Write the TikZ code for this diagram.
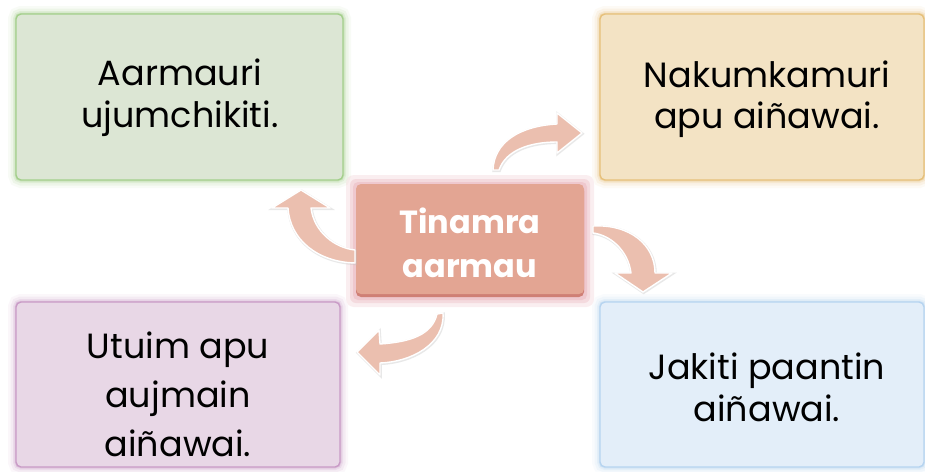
\documentclass[tikz,border=0pt]{standalone}
\usepackage{fontspec}
\setmainfont{Poppins}
\begin{document}
\begin{tikzpicture}[x=1pt,y=-1pt,
  glowbox/.style={rounded corners=5pt, line width=1.4pt, inner sep=0pt,
    align=center, text=black, font=\fontsize{36}{42}\selectfont,
    preaction={draw=#1, draw opacity=0.07, line width=16pt},
    preaction={draw=#1, draw opacity=0.12, line width=11pt},
    preaction={draw=#1, draw opacity=0.2, line width=6pt},
    preaction={draw=#1, draw opacity=0.3, line width=3pt}},
  arrowshape/.style={fill=arrowfill, draw=white, line width=1.4pt, line join=round,
    preaction={draw=black!25, draw opacity=0.35, line width=2.5pt, transform canvas={xshift=0.6pt,yshift=-0.8pt}}},
]
\definecolor{gfill}{HTML}{DCE6D4}\definecolor{gline}{HTML}{A3CF8B}
\definecolor{ofill}{HTML}{F3E3C4}\definecolor{oline}{HTML}{E6C07A}
\definecolor{pfill}{HTML}{E8D7E6}\definecolor{pline}{HTML}{C99BC6}
\definecolor{bfill}{HTML}{E3EEF9}\definecolor{bline}{HTML}{B6D4F0}
\definecolor{cfill}{HTML}{E3A593}\definecolor{cdark}{HTML}{CF7F75}
\definecolor{cglow}{HTML}{E9AEB6}
\definecolor{arrowfill}{HTML}{EBBFAF}
\useasboundingbox (0,0) rectangle (925,471);
\fill[white] (0,0) rectangle (925,471);

% outer boxes
\node[glowbox=gline, draw=gline, fill=gfill, minimum width=327pt, minimum height=166pt] (g) at (179.5,97) {};
\node[glowbox=oline, draw=oline, fill=ofill, minimum width=324pt, minimum height=166pt] (o) at (762,97) {};
\node[glowbox=pline, draw=pline, fill=pfill, minimum width=324pt, minimum height=165pt] (p) at (178,384.5) {};
\node[glowbox=bline, draw=bline, fill=bfill, minimum width=324pt, minimum height=165pt] (b) at (762,384.5) {};

\node[align=center, font=\fontsize{35}{42}\selectfont] (gt) at (180,98) {Aarmauri\\ujumchikiti.};
\node[align=center, font=\fontsize{35}{41}\selectfont] (ot) at (767,99) {Nakumkamuri\\apu aiñawai.};
\node[align=center, font=\fontsize{35}{49}\selectfont] (pt) at (178,394) {Utuim apu\\aujmain\\aiñawai.};
\node[align=center, font=\fontsize{35}{42}\selectfont] (bt) at (767,387) {Jakiti paantin\\aiñawai.};

% centre box
\fill[cglow, opacity=0.2, rounded corners=8pt] (346,175) rectangle (594,307);
\fill[cglow, opacity=0.3, rounded corners=6pt] (350,179) rectangle (590,303);
\fill[cglow, opacity=0.4, rounded corners=5pt] (353,182) rectangle (587,300);
\fill[cdark, rounded corners=5pt] (356,186) rectangle (584,297);
\node[fill=cfill, rounded corners=5pt, minimum width=228pt, minimum height=110pt, inner sep=0pt] (c) at (470,239) {};
\node[align=center, text=white, font=\bfseries\fontsize{32}{44}\selectfont] (ct) at (470,243) {Tinamra\\aarmau};

% arrows
\draw[arrowshape] (493,170) .. controls (494,142) and (520,126) .. (557,124)
   -- (557,113) -- (582,133) -- (557,153) -- (557,142)
   .. controls (530,142) and (506,150) .. (499,170) -- cycle;
\draw[arrowshape] (355,263) .. controls (318,262) and (290,240) .. (288,208)
   -- (272,208) -- (301,190) -- (330,208) -- (311,208)
   .. controls (314,232) and (335,248) .. (355,250) -- cycle;
\draw[arrowshape] (593,226) .. controls (630,224) and (655,245) .. (655,273)
   -- (672,273) -- (643,292) -- (615,273) -- (631,273)
   .. controls (628,250) and (610,235) .. (593,233) -- cycle;
\draw[arrowshape] (443,313) .. controls (445,345) and (410,362) .. (380,363)
   -- (380,375) -- (357,352) -- (379,330) -- (380,344)
   .. controls (410,342) and (432,335) .. (437,314) -- cycle;
\end{tikzpicture}
\end{document}
